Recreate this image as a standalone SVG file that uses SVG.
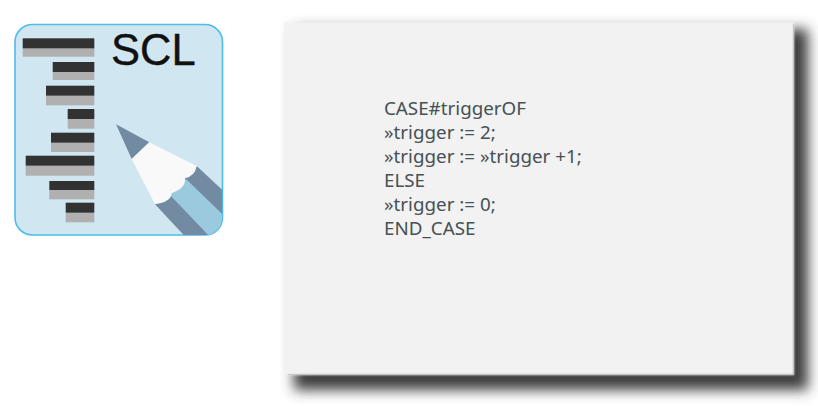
<svg xmlns="http://www.w3.org/2000/svg" width="818" height="406" viewBox="0 0 818 406">
  <style>
    .d { fill: #333333; }
    .g { fill: #b0b0b0; }
    .code { font-family: "Noto Sans", "Open Sans", sans-serif; font-size: 18.8px; fill: #465154; }
  </style>
  <defs>
    <filter id="shadow" x="-10%" y="-10%" width="120%" height="120%"><feGaussianBlur stdDeviation="6.500"/></filter>
    <filter id="soft" x="-5%" y="-5%" width="110%" height="110%"><feGaussianBlur stdDeviation="0.5"/></filter>
    <filter id="edge" x="-5%" y="-5%" width="110%" height="110%"><feGaussianBlur stdDeviation="0.8"/></filter>
    <clipPath id="iconClip"><rect x="15" y="24.5" width="207" height="210.5" rx="17"/></clipPath>
  </defs>
  <rect width="818" height="406" fill="#ffffff"/>
  <g id="icon">
    <rect x="15" y="24.5" width="207.5" height="210.5" rx="17.5" fill="#d0e6f1" stroke="#4cbde9" stroke-width="1.6"/>
    <g filter="url(#soft)">
      <rect class="g" x="22.7" y="48" width="71.6" height="8.7"/><rect class="d" x="22.7" y="38.3" width="71.6" height="10"/>
      <rect class="g" x="52.7" y="72" width="41.6" height="8"/><rect class="d" x="52.7" y="62" width="41.6" height="10"/>
      <rect class="g" x="46" y="95.7" width="48.3" height="9.6"/><rect class="d" x="46" y="85.7" width="48.3" height="10"/>
      <rect class="g" x="67.7" y="119" width="26.6" height="9.7"/><rect class="d" x="67.7" y="109" width="26.6" height="10"/>
      <rect class="g" x="51" y="142.7" width="43.3" height="9.3"/><rect class="d" x="51" y="132.7" width="43.3" height="10"/>
      <rect class="g" x="25.7" y="165.7" width="68.6" height="10"/><rect class="d" x="25.7" y="155.7" width="68.6" height="10"/>
      <rect class="g" x="49.3" y="190" width="45" height="9.3"/><rect class="d" x="49.3" y="181" width="45" height="9"/>
      <rect class="g" x="65.7" y="212.7" width="28.6" height="9.6"/><rect class="d" x="65.7" y="202.7" width="28.6" height="10"/>
    </g>
    <text x="111" y="65" font-family="Liberation Sans, Arial, sans-serif" font-size="43.500" fill="#111111" stroke="#111111" stroke-width="0.4">SCL</text>
    <g clip-path="url(#iconClip)" filter="url(#soft)">
      <polygon points="196.7,166 245,211 245,260 207,260 155,204.3" fill="#728ba3"/>
      <polygon points="186,179 245,236 245,260 232,260 170,195" fill="#9bc9dd"/>
      <polygon points="116,124.3 149.3,142.3 131.7,159" fill="#728ba3"/>
      <path d="M149.3,142.3 L196.7,166 Q195,176 185,178.300 Q186,188 171.700,193.300 Q171,202 155,204.300 L131.7,159 Z" fill="#f9f9f9"/>
    </g>
  </g>
  <g id="panel">
    <rect x="294" y="29" width="514" height="361" fill="#3e3e3e" filter="url(#shadow)"/>
    <rect x="284" y="22" width="510" height="353" fill="#f2f2f2" filter="url(#edge)"/>
    <path d="M793.500,24 V374.500 H288" fill="none" stroke="#c4c4c4" stroke-width="1"/>
    <text class="code" x="384" y="115">CASE#triggerOF</text>
    <text class="code" x="384" y="139">»trigger := 2;</text>
    <text class="code" x="384" y="163">»trigger := »trigger +1;</text>
    <text class="code" x="384" y="187">ELSE</text>
    <text class="code" x="384" y="211">»trigger := 0;</text>
    <text class="code" x="384" y="235">END_CASE</text>
  </g>
</svg>
